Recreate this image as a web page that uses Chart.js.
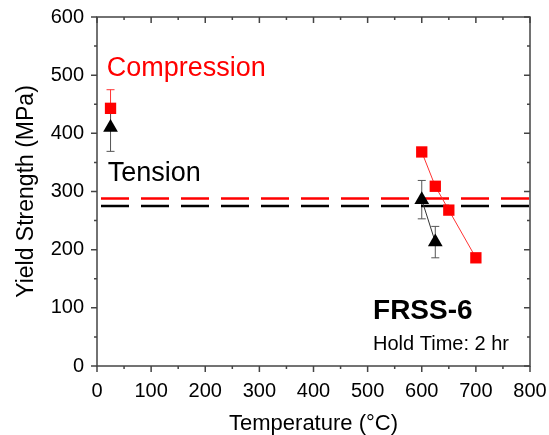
<!DOCTYPE html>
<html>
<head>
<meta charset="utf-8">
<script src="https://cdn.jsdelivr.net/npm/chart.js@4.4.1/dist/chart.umd.min.js"></script>
<style>
  html, body { margin: 0; padding: 0; background: #fff; }
  #wrap { width: 549px; height: 435px; }
</style>
</head>
<body>
<div id="wrap"><canvas id="ysChart"></canvas></div>
<script>
// values
const compTemps = [25, 600, 625, 650, 700];
const compYS = [443, 368, 309, 268, 186];
const compErr = [32, 0, 0, 0, 0];

const tensTemps = [25, 600, 625];
const tensYS = [410, 286, 213];
const tensErr = [41, 33, 27];

const compRef = 288;
const tensRef = 275;
const refSpan = [0, 800];

const xTicks = [0, 100, 200, 300, 400, 500, 600, 700, 800];
const yTicks = [0, 100, 200, 300, 400, 500, 600];

const FONT = "'Liberation Sans', Arial, sans-serif";

const toXY = (xs, ys) => xs.map((x, i) => ({ x: x, y: ys[i] }));

// error bars + frame + tick marks
const extras = {
  id: 'extras',
  beforeDatasetsDraw(chart) {
    const { ctx, scales: { x, y } } = chart;
    const bars = [
      { xs: compTemps, ys: compYS, err: compErr, color: '#ff3333' },
      { xs: tensTemps, ys: tensYS, err: tensErr, color: '#555' }
    ];
    ctx.save();
    ctx.lineWidth = 1;
    bars.forEach(b => {
      ctx.strokeStyle = b.color;
      b.xs.forEach((t, i) => {
        if (!b.err[i]) return;
        const px = x.getPixelForValue(t);
        const top = y.getPixelForValue(b.ys[i] + b.err[i]);
        const bot = y.getPixelForValue(b.ys[i] - b.err[i]);
        ctx.beginPath();
        ctx.moveTo(px, top); ctx.lineTo(px, bot);
        ctx.moveTo(px - 4, top); ctx.lineTo(px + 4, top);
        ctx.moveTo(px - 4, bot); ctx.lineTo(px + 4, bot);
        ctx.stroke();
      });
    });
    ctx.restore();
  },
  afterDraw(chart) {
    const { ctx, chartArea: a, scales: { x, y } } = chart;
    ctx.save();
    ctx.strokeStyle = '#444';
    ctx.lineWidth = 1.5;
    ctx.strokeRect(a.left, a.top, a.right - a.left, a.bottom - a.top);
    ctx.lineWidth = 1.5;
    ctx.beginPath();
    for (let v = 0; v <= 800; v += 50) {
      const px = x.getPixelForValue(v);
      const len = v % 100 === 0 ? 6 : 3;
      ctx.moveTo(px, a.bottom); ctx.lineTo(px, a.bottom + len);
      ctx.moveTo(px, a.top); ctx.lineTo(px, a.top + len);
    }
    for (let v = 0; v <= 600; v += 50) {
      const py = y.getPixelForValue(v);
      const len = v % 100 === 0 ? 6 : 3;
      ctx.moveTo(a.left, py); ctx.lineTo(a.left - len, py);
      ctx.moveTo(a.right, py); ctx.lineTo(a.right - len, py);
    }
    ctx.stroke();

    // annotations
    ctx.textBaseline = 'middle';
    ctx.textAlign = 'left';
    ctx.fillStyle = '#ff0000';
    ctx.font = '27px ' + FONT;
    ctx.fillText('Compression', x.getPixelForValue(18), y.getPixelForValue(511));
    ctx.fillStyle = '#000';
    ctx.fillText('Tension', x.getPixelForValue(20), y.getPixelForValue(331));
    ctx.font = 'bold 28px ' + FONT;
    ctx.fillText('FRSS-6', x.getPixelForValue(510), y.getPixelForValue(94));
    ctx.font = '20px ' + FONT;
    ctx.fillText('Hold Time: 2 hr', x.getPixelForValue(510), y.getPixelForValue(37));
    ctx.restore();
  }
};

new Chart(document.getElementById('ysChart'), {
  type: 'scatter',
  data: {
    datasets: [
      {
        label: 'Compression',
        data: toXY(compTemps, compYS),
        showLine: true,
        borderColor: '#ff3333',
        borderWidth: 1,
        backgroundColor: '#ff0000',
        pointStyle: 'rect',
        pointRadius: 8,
        pointBorderWidth: 0,
        segment: { borderColor: c => c.p0DataIndex === 0 ? 'transparent' : '#ff3333' }
      },
      {
        label: 'Tension',
        data: toXY(tensTemps, tensYS),
        showLine: true,
        borderColor: '#333',
        borderWidth: 1,
        backgroundColor: '#000',
        pointStyle: 'triangle',
        pointRadius: 8.5,
        pointBorderWidth: 0,
        segment: { borderColor: c => c.p0DataIndex === 0 ? 'transparent' : '#333' }
      },
      {
        label: 'Compression ref',
        data: toXY(refSpan, [compRef, compRef]),
        showLine: true,
        borderColor: '#ff0000',
        borderWidth: 2.5,
        borderDash: [28, 12],
        borderDashOffset: 36,
        pointRadius: 0
      },
      {
        label: 'Tension ref',
        data: toXY(refSpan, [tensRef, tensRef]),
        showLine: true,
        borderColor: '#000',
        borderWidth: 2.5,
        borderDash: [28, 12],
        borderDashOffset: 36,
        pointRadius: 0
      }
    ]
  },
  options: {
    responsive: true,
    maintainAspectRatio: false,
    animation: false,
    layout: { padding: { top: 17, right: 19, left: 0, bottom: 0 } },
    plugins: { legend: { display: false }, tooltip: { enabled: false } },
    scales: {
      x: {
        type: 'linear',
        min: 0, max: 800,
        afterFit: s => { s.height = 69; s.paddingLeft = 0; s.paddingRight = 0; },
        afterBuildTicks: s => { s.ticks = xTicks.map(v => ({ value: v })); },
        grid: { display: false, drawTicks: false },
        border: { display: false },
        ticks: { color: '#000', font: { family: FONT, size: 20 }, padding: 13 },
        title: { display: true, text: 'Temperature (°C)', color: '#000', font: { family: FONT, size: 22 }, padding: { top: 0, bottom: -2 } }
      },
      y: {
        type: 'linear',
        min: 0, max: 600,
        afterFit: s => { s.width = 97; s.paddingTop = 0; s.paddingBottom = 0; },
        afterBuildTicks: s => { s.ticks = yTicks.map(v => ({ value: v })); },
        grid: { display: false, drawTicks: false },
        border: { display: false },
        ticks: { color: '#000', font: { family: FONT, size: 20 }, padding: 13 },
        title: { display: true, text: 'Yield Strength (MPa)', color: '#000', font: { family: FONT, size: 23 }, padding: { top: 13 } }
      }
    }
  },
  plugins: [extras]
});
</script>
</body>
</html>
